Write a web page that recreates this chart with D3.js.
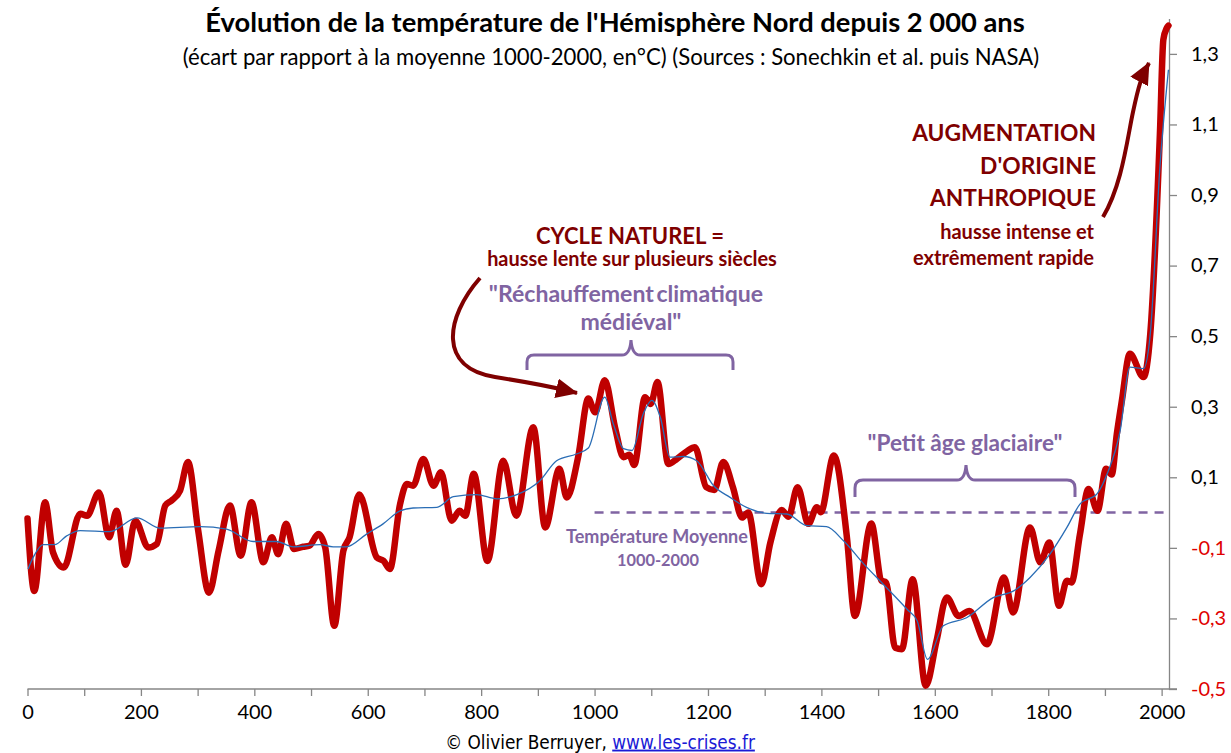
<!DOCTYPE html>
<html><head><meta charset="utf-8">
<script src="https://cdn.jsdelivr.net/npm/d3@7"></script>
<style>html,body{margin:0;padding:0;background:#fff;}svg{display:block;}</style>
</head><body><svg id="chart" width="1231" height="753"></svg>
<script>
// ---- data ----
const redYears = [0,12,31,45,64,93,105,126,144,157,173,190,213,228,243,254,269,283,301,320,337,357,376,395,416,431,442,456,470,486,497,513,525,541,557,568,585,616,628,639,657,669,680,698,716,729,748,762,772,787,811,839,862,892,913,938,951,971,989,1001,1018,1036,1051,1061,1070,1089,1099,1111,1130,1145,1163,1177,1197,1211,1227,1244,1260,1271,1294,1310,1330,1342,1358,1377,1392,1399,1422,1445,1459,1488,1506,1514,1530,1542,1561,1584,1603,1621,1642,1661,1692,1722,1738,1768,1786,1802,1819,1833,1841,1856,1871,1887,1902,1912,1921,1930,1944,1968,1980,1997,2003,2009,2012];
const redValues = [-0.017,-0.222,0.029,-0.113,-0.156,-0.003,-0.009,0.057,-0.070,0.005,-0.148,-0.023,-0.099,-0.089,0.020,0.034,0.062,0.143,-0.051,-0.227,-0.108,0.020,-0.122,0.029,-0.141,-0.070,-0.118,-0.032,-0.103,-0.097,-0.094,-0.061,-0.099,-0.321,-0.108,-0.070,0.051,-0.127,-0.137,-0.160,0.024,0.081,0.076,0.152,0.076,0.114,-0.023,0.005,-0.009,0.110,-0.137,0.147,-0.009,0.242,-0.042,0.124,0.043,0.157,0.323,0.284,0.375,0.242,0.157,0.164,0.135,0.327,0.308,0.370,0.138,0.152,0.174,0.185,0.072,0.064,0.143,0.072,-0.014,0.000,-0.203,-0.085,0.007,-0.012,0.072,-0.032,0.015,0.001,0.162,-0.070,-0.293,-0.031,-0.193,-0.198,-0.383,-0.387,-0.189,-0.491,-0.364,-0.241,-0.293,-0.279,-0.373,-0.184,-0.283,-0.042,-0.141,-0.085,-0.264,-0.193,-0.198,-0.061,0.067,0.005,0.124,0.108,0.223,0.318,0.450,0.384,0.507,1.075,1.340,1.373,1.380];
const blueYears = [1,10,28,48,69,93,145,193,234,304,351,398,439,469,516,539,562,598,627,657,680,722,751,792,828,863,904,933,968,989,1018,1033,1051,1066,1086,1101,1116,1133,1157,1180,1210,1239,1268,1304,1339,1374,1409,1439,1475,1509,1551,1569,1587,1615,1656,1703,1739,1768,1803,1833,1856,1886,1904,1927,1944,1968,1980,1997,2012];
const blueValues = [-0.160,-0.127,-0.091,-0.091,-0.066,-0.051,-0.054,-0.015,-0.044,-0.040,-0.047,-0.082,-0.082,-0.097,-0.091,-0.097,-0.097,-0.061,-0.032,0.005,0.013,0.015,0.045,0.051,0.039,0.051,0.091,0.147,0.166,0.183,0.327,0.252,0.181,0.176,0.280,0.318,0.270,0.157,0.159,0.147,0.076,0.043,0.015,-0.002,-0.004,-0.037,-0.040,-0.080,-0.146,-0.203,-0.274,-0.307,-0.416,-0.321,-0.298,-0.241,-0.222,-0.184,-0.118,-0.042,0.024,0.053,0.110,0.233,0.412,0.408,0.507,0.980,1.255];
const meanLine = {from: 1000, to: 2013, value: 0};
const xTicks = [0,100,200,300,400,500,600,700,800,900,1000,1100,1200,1300,1400,1500,1600,1700,1800,1900,2000];
const xTickLabels = [0,200,400,600,800,1000,1200,1400,1600,1800,2000];
const yTicks = [-0.5,-0.3,-0.1,0.1,0.3,0.5,0.7,0.9,1.1,1.3];
const titleText = "Évolution de la température de l'Hémisphère Nord depuis 2 000 ans";
const subtitleText = "(écart par rapport à la moyenne 1000-2000, en°C) (Sources : Sonechkin et al. puis NASA)";

// ---- layout ----
const svg = d3.select("#chart");
const FONT = "Lato, 'Open Sans', 'Noto Sans', sans-serif";
const NARROW = "'Liberation Sans Narrow', 'DejaVu Sans Condensed', Lato, sans-serif";
const DARK = "#7f0000", PURPLE = "#8064a2", RED = "#c00000", BLUE = "#2a6db5", AXIS = "#868686";

const x = d3.scaleLinear().domain([0, 2013]).range([27.5, 1169]);
const y = d3.scaleLinear().domain([-0.5, 1.4]).range([689, 18.6]);

function label(g, px, py, txt, o) {
  const t = g.append("text").attr("x", px).attr("y", py).attr("dy", "0.35em")
    .attr("text-anchor", o.anchor || "middle")
    .attr("font-family", o.family || FONT)
    .attr("font-weight", o.weight || "bold")
    .attr("fill", o.fill || "#000")
    .attr("font-size", o.size).text(txt);
  if (o.ws) t.attr("word-spacing", o.ws);
  if (o.w) {
    const L = t.node().getComputedTextLength();
    t.attr("font-size", o.size * o.w / L);
  }
  return t;
}

// axes
const xAxis = d3.axisBottom(x).tickValues(xTicks).tickSize(7).tickSizeOuter(0).tickPadding(9)
  .tickFormat(d => xTickLabels.includes(d) ? String(d) : "");
const gx = svg.append("g").attr("transform", `translate(0,${y(-0.5)})`).call(xAxis);
gx.select(".domain").remove();
gx.append("line").attr("x1", x(0)).attr("x2", x(2013) + 8).attr("y1", 0).attr("y2", 0);
gx.selectAll("path,line").attr("stroke", AXIS).attr("stroke-width", 1.3);
gx.selectAll("text").attr("font-family", FONT).attr("font-size", 20).attr("fill", "#000");

const fmt = v => (v < 0 ? "-" : "") + Math.abs(v).toFixed(1).replace(".", ",");
const yAxis = d3.axisRight(y).tickValues(yTicks).tickSize(8).tickSizeOuter(0).tickPadding(14).tickFormat(fmt);
const gy = svg.append("g").attr("transform", `translate(${x(2013)},0)`).call(yAxis);
gy.selectAll("path,line").attr("stroke", AXIS).attr("stroke-width", 1.3);
gy.selectAll("text").attr("font-family", FONT).attr("font-size", 20)
  .attr("fill", d => d < 0 ? "#e00000" : "#000");

// mean dashed line
svg.append("line")
  .attr("x1", x(meanLine.from)).attr("x2", x(meanLine.to))
  .attr("y1", y(meanLine.value)).attr("y2", y(meanLine.value))
  .attr("stroke", PURPLE).attr("stroke-width", 2.5).attr("stroke-dasharray", "9,7");

// series
const redData = redYears.map((yr, i) => [yr, redValues[i]]);
const blueData = blueYears.map((yr, i) => [yr, blueValues[i]]);
const line = d3.line().x(d => x(d[0])).y(d => y(d[1])).curve(d3.curveMonotoneX);
svg.append("path").datum(redData).attr("d", line).attr("fill", "none")
  .attr("stroke", RED).attr("stroke-width", 6.5).attr("stroke-linejoin", "round").attr("stroke-linecap", "round");
svg.append("path").datum(blueData).attr("d", line).attr("fill", "none")
  .attr("stroke", BLUE).attr("stroke-width", 1.3);

// titles
label(svg, 615, 22, titleText, {size: 24, w: 820});
label(svg, 611, 57, subtitleText, {size: 19, w: 857, weight: "normal"});

// footer
const foot = svg.append("text").attr("x", 600).attr("y", 742).attr("dy", "0.35em")
  .attr("text-anchor", "middle").attr("font-family", NARROW).attr("font-size", 19);
foot.append("tspan").attr("fill", "#000").text("© Olivier Berruyer, ");
foot.append("tspan").attr("fill", "#1a1ad6").attr("text-decoration", "underline").text("www.les-crises.fr");
{ const L = foot.node().getComputedTextLength(); foot.attr("font-size", 19 * 310 / L); }

// annotations
const ann = svg.append("g");
label(ann, 630, 236, "CYCLE NATUREL =", {size: 22, w: 188, fill: DARK});
label(ann, 632, 259, "hausse lente sur plusieurs siècles", {size: 17, w: 290, fill: DARK});
const rc = label(ann, 626, 294, "\"Réchauffement climatique", {size: 20, w: 274, fill: PURPLE, ws: -3});
label(ann, 631, 322, "médiéval\"", {size: +rc.attr("font-size"), fill: PURPLE});
label(ann, 965, 443, "\"Petit âge glaciaire\"", {size: 20, w: 195, fill: PURPLE});
label(ann, 657, 537, "Température Moyenne", {size: 15, w: 182, fill: PURPLE});
label(ann, 658, 560, "1000-2000", {size: 15, w: 82, fill: PURPLE});
label(ann, 1096, 133, "AUGMENTATION", {size: 22, w: 184, fill: DARK, anchor: "end"});
label(ann, 1096, 166, "D'ORIGINE", {size: 22, w: 116, fill: DARK, anchor: "end"});
label(ann, 1096, 198, "ANTHROPIQUE", {size: 22, w: 166, fill: DARK, anchor: "end"});
label(ann, 1094, 232, "hausse intense et", {size: 17, w: 154, fill: DARK, anchor: "end"});
label(ann, 1094, 258, "extrêmement rapide", {size: 17, w: 181, fill: DARK, anchor: "end"});

// braces
ann.append("path").attr("d", "M527,370 L527,362 Q527,355 534,355 L622,355 Q630,355 631,340 Q632,355 640,355 L726,355 Q733,355 733,362 L733,370")
  .attr("fill", "none").attr("stroke", PURPLE).attr("stroke-width", 3);
ann.append("path").attr("d", "M855,497 L855,488 Q855,480 863,480 L957,480 Q965,480 966,465 Q967,480 975,480 L1067,480 Q1075,480 1075,488 L1075,497")
  .attr("fill", "none").attr("stroke", PURPLE).attr("stroke-width", 3);

// arrows
const defs = svg.append("defs");
defs.append("marker").attr("id", "ah").attr("markerUnits", "userSpaceOnUse")
  .attr("viewBox", "0 0 22 20").attr("markerWidth", 22).attr("markerHeight", 20)
  .attr("refX", 21).attr("refY", 10).attr("orient", "auto")
  .append("path").attr("d", "M0,0 L22,10 L0,20 Z").attr("fill", DARK);
ann.append("path").attr("d", "M480,278 C445,318 438,368 495,377 S555,388 577,393")
  .attr("fill", "none").attr("stroke", DARK).attr("stroke-width", 4).attr("marker-end", "url(#ah)");
ann.append("path").attr("d", "M1103,217 C1122,185 1127,140 1133,112 S1141,78 1149,63")
  .attr("fill", "none").attr("stroke", DARK).attr("stroke-width", 4).attr("marker-end", "url(#ah)");
</script></body></html>
